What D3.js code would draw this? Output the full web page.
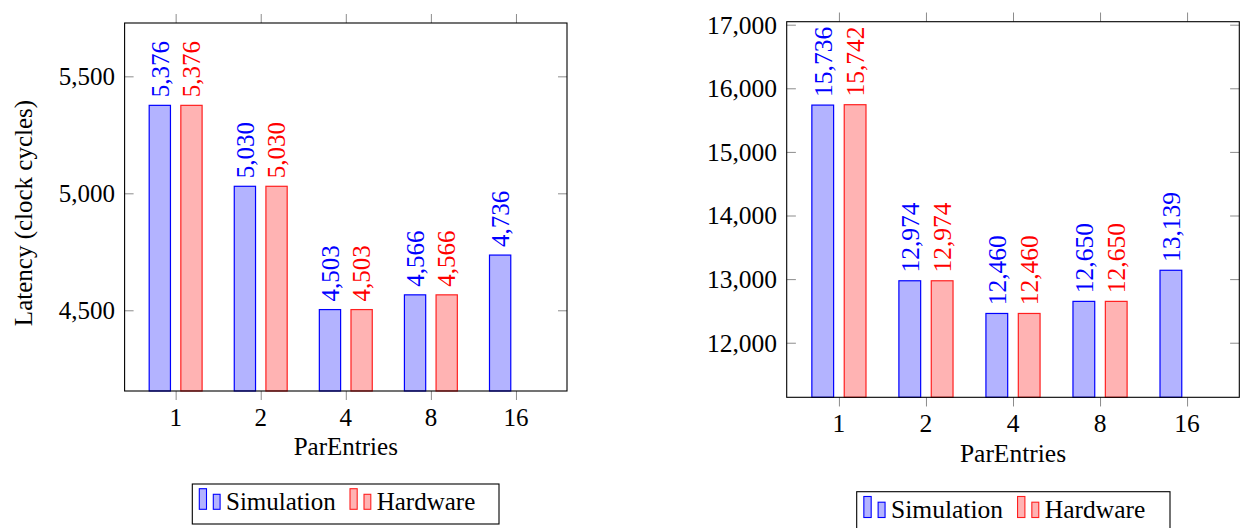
<!DOCTYPE html>
<html>
<head>
<meta charset="utf-8">
<script src="https://cdn.jsdelivr.net/npm/d3@7"></script>
<style>
  body { margin: 0; background: #fff; }
  svg { display: block; }
  text { font-family: "Liberation Serif", "Times New Roman", serif; fill: #000; }
</style>
</head>
<body>
<svg id="chart" width="1243" height="528"></svg>
<script>
// ParEntries sweep: latency in clock cycles, simulation vs. hardware
const categories = ["1", "2", "4", "8", "16"];
const seriesNames = ["Simulation", "Hardware"];

const simLeft = [5376, 5030, 4503, 4566, 4736];
const hwLeft = [5376, 5030, 4503, 4566, null];
const ticksLeft = [4500, 5000, 5500];

const simRight = [15736, 12974, 12460, 12650, 13139];
const hwRight = [15742, 12974, 12460, 12650, null];
const ticksRight = [12000, 13000, 14000, 15000, 16000, 17000];

const styles = [
  { fill: "#b3b3ff", stroke: "#0000ff", label: "#0000ff" },
  { fill: "#ffb3b3", stroke: "#ff2020", label: "#ff0000" }
];

const svg = d3.select("#chart");
const fmt = d3.format(",");

function panel(cfg) {
  const g = svg.append("g");
  const s = cfg.scale;
  const fs = 25 * s;

  const x = d3.scalePoint().domain(categories).range([cfg.x0, cfg.x1]).padding(0.6);
  const y = d3.scaleLinear().domain(cfg.domain).range([cfg.y1, cfg.y0]);
  const step = x.step();
  const bw = step * 0.25;
  const off = step * 0.186;

  // bars with rotated value labels
  [cfg.sim, cfg.hw].forEach((vals, si) => {
    const st = styles[si];
    const cx = c => x(c) + (si === 0 ? -off : off);
    const data = categories.map((c, i) => ({ c, v: vals[i] })).filter(d => d.v != null);
    g.selectAll(null).data(data).enter().append("rect")
      .attr("x", d => cx(d.c) - bw / 2)
      .attr("y", d => y(d.v))
      .attr("width", bw)
      .attr("height", d => y(cfg.domain[0]) - y(d.v))
      .attr("fill", st.fill)
      .attr("stroke", st.stroke)
      .attr("stroke-width", 1.2);
    g.selectAll(null).data(data).enter().append("text")
      .attr("transform", d => `translate(${cx(d.c)},${y(d.v) - 8 * s}) rotate(-90)`)
      .attr("dy", "0.35em")
      .attr("text-anchor", "start")
      .style("font-size", fs + "px")
      .style("fill", st.label)
      .text(d => fmt(d.v));
  });

  // x ticks (outside, top and bottom)
  const tl = 9 * s;
  const xb = d3.axisBottom(x).tickSizeInner(tl).tickSizeOuter(0).tickPadding(0).tickFormat("");
  const xt = d3.axisTop(x).tickSizeInner(tl).tickSizeOuter(0).tickFormat("");
  g.append("g").attr("transform", `translate(0,${cfg.y1})`).call(xb);
  g.append("g").attr("transform", `translate(0,${cfg.y0})`).call(xt);
  // y ticks (inside, left and right)
  const yl = d3.axisLeft(y).tickValues(cfg.ticks).tickSizeInner(-tl).tickSizeOuter(0).tickFormat("");
  const yr = d3.axisRight(y).tickValues(cfg.ticks).tickSizeInner(-tl).tickSizeOuter(0).tickFormat("");
  g.append("g").attr("transform", `translate(${cfg.x0},0)`).call(yl);
  g.append("g").attr("transform", `translate(${cfg.x1},0)`).call(yr);
  g.selectAll(".domain").remove();
  g.selectAll(".tick line").attr("stroke", "#8c8c8c").attr("stroke-width", 1);

  // frame
  g.append("rect")
    .attr("x", cfg.x0).attr("y", cfg.y0)
    .attr("width", cfg.x1 - cfg.x0).attr("height", cfg.y1 - cfg.y0)
    .attr("fill", "none").attr("stroke", "#000").attr("stroke-width", 1.1);

  // tick labels
  g.selectAll(null).data(categories).enter().append("text")
    .attr("x", d => x(d)).attr("y", cfg.y1 + 34.5 * s)
    .attr("text-anchor", "middle").style("font-size", fs + "px")
    .text(d => d);
  g.selectAll(null).data(cfg.ticks).enter().append("text")
    .attr("x", cfg.x0 - 9.5 * s).attr("y", d => y(d)).attr("dy", "0.35em")
    .attr("text-anchor", "end").style("font-size", fs + "px")
    .text(d => fmt(d));

  // axis titles
  g.append("text")
    .attr("x", (cfg.x0 + cfg.x1) / 2).attr("y", cfg.y1 + 63.5 * s)
    .attr("text-anchor", "middle").style("font-size", fs + "px")
    .text("ParEntries");
  if (cfg.ylabel) {
    g.append("text")
      .attr("transform", `translate(32,${(cfg.y0 + cfg.y1) / 2 + 6}) rotate(-90)`)
      .attr("text-anchor", "middle").style("font-size", fs + "px")
      .text(cfg.ylabel);
  }

  // legend
  const L = cfg.legend;
  g.append("rect")
    .attr("x", L.x).attr("y", L.y).attr("width", L.w).attr("height", 40 * s)
    .attr("fill", "#fff").attr("stroke", "#000").attr("stroke-width", 1.1);
  const base = L.y + 26 * s;
  const items = [
    { icon: 7, text: 33.7 },
    { icon: 157.7, text: 184.4 }
  ];
  items.forEach((it, i) => {
    const st = styles[i];
    const ix = L.x + it.icon * s;
    g.append("rect").attr("x", ix).attr("y", base - 21.3 * s)
      .attr("width", 7.2 * s).attr("height", 20.6 * s)
      .attr("fill", st.fill).attr("stroke", st.stroke).attr("stroke-width", 1.1);
    g.append("rect").attr("x", ix + 14 * s).attr("y", base - 15.7 * s)
      .attr("width", 6.8 * s).attr("height", 15 * s)
      .attr("fill", st.fill).attr("stroke", st.stroke).attr("stroke-width", 1.1);
    g.append("text").attr("x", L.x + it.text * s).attr("y", base)
      .style("font-size", fs + "px").text(seriesNames[i]);
  });
}

panel({
  x0: 124.6, x1: 567, y0: 23, y1: 391,
  domain: [4155, 5728], ticks: ticksLeft,
  sim: simLeft, hw: hwLeft, scale: 1,
  ylabel: "Latency (clock cycles)",
  legend: { x: 192.3, y: 484, w: 306.7 }
});

panel({
  x0: 786.7, x1: 1239.3, y0: 21.7, y1: 397.3,
  domain: [11142, 17047], ticks: ticksRight,
  sim: simRight, hw: hwRight, scale: 1.02,
  ylabel: null,
  legend: { x: 856.7, y: 491.7, w: 313.3 }
});
</script>
</body>
</html>
